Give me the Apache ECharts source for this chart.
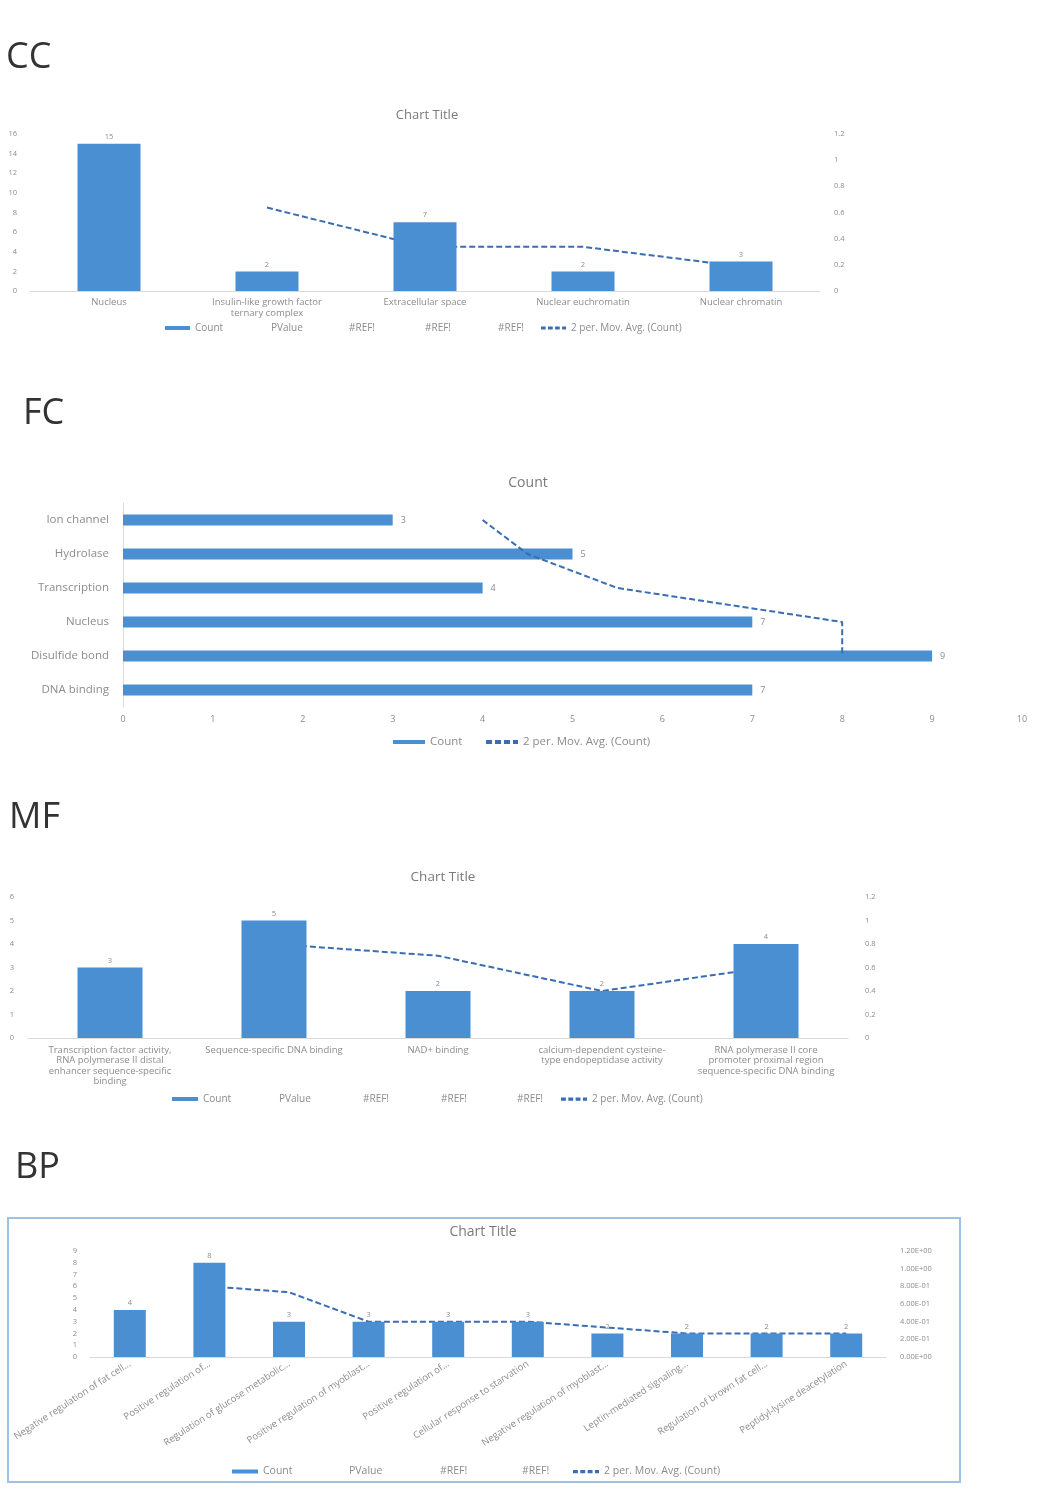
<!DOCTYPE html>
<html><head><meta charset="utf-8">
<script src="https://cdn.jsdelivr.net/npm/echarts@6/dist/echarts.min.js"></script>
<style>
html,body{margin:0;padding:0;background:#fff;}
.c{position:absolute;left:0;width:1054px;}
</style>
</head><body>
<div id="cc" class="c" style="top:0;height:360px"></div>
<div id="fc" class="c" style="top:360px;height:400px"></div>
<div id="mf" class="c" style="top:760px;height:370px"></div>
<div id="bp" class="c" style="top:1130px;height:376px"></div>
<script>
// ---------- DATA ----------
const ccCategories = ['Nucleus', 'Insulin-like growth factor\nternary complex', 'Extracellular space', 'Nuclear euchromatin', 'Nuclear chromatin'];
const ccCount = [15, 2, 7, 2, 3];
const ccMovAvg = [null, 8.5, 4.5, 4.5, 2.5];

const fcCategories = ['Ion channel', 'Hydrolase', 'Transcription', 'Nucleus', 'Disulfide bond', 'DNA binding'];
const fcCount = [3, 5, 4, 7, 9, 7];
const fcMovAvg = [4, 4.5, 5.5, 8, 8, null];

const mfCategories = ['Transcription factor activity,\nRNA polymerase II distal\nenhancer sequence-specific\nbinding', 'Sequence-specific DNA binding', 'NAD+ binding', 'calcium-dependent cysteine-\ntype endopeptidase activity', 'RNA polymerase II core\npromoter proximal region\nsequence-specific DNA binding'];
const mfCount = [3, 5, 2, 2, 4];
const mfMovAvg = [null, 4, 3.5, 2, 3];

const bpCategories = ['Negative regulation of fat cell...', 'Positive regulation of...', 'Regulation of glucose metabolic...', 'Positive regulation of myoblast...', 'Positive regulation of...', 'Cellular response to starvation', 'Negative regulation of myoblast...', 'Leptin-mediated signaling...', 'Regulation of brown fat cell...', 'Peptidyl-lysine deacetylation'];
const bpCount = [4, 8, 3, 3, 3, 3, 2, 2, 2, 2];
const bpMovAvg = [null, 6, 5.5, 3, 3, 3, 2.5, 2, 2, 2];
const bpRightTicks = ['0.00E+00', '2.00E-01', '4.00E-01', '6.00E-01', '8.00E-01', '1.00E+00', '1.20E+00'];

const legendNames = {Count: 'Count', PValue: 'PValue', REF1: '#REF!', REF2: '#REF!', REF3: '#REF!', MA: '2 per. Mov. Avg. (Count)'};

// ---------- STYLE ----------
const FONT = '"Open Sans", "Liberation Sans", sans-serif';
const BAR = '#4b8fd3';
const LINE = '#3a6db2';
const TXT = '#8c8c8c';
const AXISLINE = '#d9d9d9';
const DASH_ICON = 'path://M0,0H6V4H0Z M9,0H15V4H9Z M18,0H24V4H18Z M27,0H32V4H27Z';

function dummy(name, yIdx) {
  return {name: name, type: 'line', data: [], symbol: 'none', yAxisIndex: yIdx,
    itemStyle: {color: 'rgba(0,0,0,0)'}, lineStyle: {color: 'rgba(0,0,0,0)'}};
}
function heading(text, left, top) {
  return {text: text, left: left, top: top, padding: 0,
    textStyle: {fontFamily: FONT, fontSize: 36, fontWeight: 'normal', color: '#333'}};
}
function ctitle(text, cx, top, size) {
  return {text: text, left: cx, top: top, textAlign: 'center', padding: 0,
    textStyle: {fontFamily: FONT, fontSize: size, fontWeight: 'normal', color: '#7a7a7a'}};
}
// items: [name, leftOfIcon]
function legends(items, top, fs, iw) {
  return items.map(([name, left]) => ({
    left: left, top: top, itemWidth: iw, itemHeight: 4, padding: 0, selectedMode: false,
    data: [name === 'MA' ? {name: name, icon: DASH_ICON} : (name === 'Count' ? {name: name, icon: 'rect'} : name)],
    formatter: n => legendNames[n] || n,
    textStyle: {fontFamily: FONT, fontSize: fs, color: TXT}
  }));
}
function countLabel(fs, pos, dist) {
  return {show: true, position: pos, distance: dist, fontFamily: FONT, fontSize: fs, color: TXT};
}
const maLine = (data, z) => ({name: 'MA', type: 'line', data: data, symbol: 'none', z: z,
  lineStyle: {color: LINE, width: 2, type: [6, 3]}, itemStyle: {color: LINE}});

// ---------- CC ----------
echarts.init(document.getElementById('cc')).setOption({
  animation: false,
  title: [heading('CC', 6, 40), ctitle('Chart Title', 427, 109, 13)],
  legend: legends([['Count', 165], ['PValue', 240], ['REF1', 318], ['REF2', 394], ['REF3', 467], ['MA', 541]], 323, 10, 25),
  grid: {left: 30, top: 134, width: 790, height: 157},
  xAxis: {type: 'category', data: ccCategories,
    axisLine: {lineStyle: {color: AXISLINE}}, axisTick: {show: false},
    axisLabel: {interval: 0, margin: 6, lineHeight: 11, fontFamily: FONT, fontSize: 9.5, color: TXT}},
  yAxis: [
    {type: 'value', min: 0, max: 16, interval: 2, splitLine: {show: false},
      axisLabel: {margin: 13, fontFamily: FONT, fontSize: 7.5, color: TXT}},
    {type: 'value', min: 0, max: 1.2, interval: 0.2, splitLine: {show: false}, position: 'right',
      axisLabel: {margin: 14, fontFamily: FONT, fontSize: 7.5, color: TXT, align: 'left'}}
  ],
  series: [
    {name: 'Count', type: 'bar', data: ccCount, barWidth: 63, z: 3,
      itemStyle: {color: BAR}, label: countLabel(7.5, 'top', 3)},
    dummy('PValue', 1), dummy('REF1', 1), dummy('REF2', 1), dummy('REF3', 1),
    maLine(ccMovAvg, 2)
  ]
});

// ---------- FC ----------
echarts.init(document.getElementById('fc')).setOption({
  animation: false,
  title: [heading('FC', 23, 36), ctitle('Count', 528, 116, 14)],
  legend: legends([['Count', 393], ['MA', 486]], 376, 11.5, 32),
  grid: {left: 123, top: 143, width: 899, height: 204},
  xAxis: {type: 'value', min: 0, max: 10, interval: 1, splitLine: {show: false},
    axisLine: {show: false}, axisTick: {show: false},
    axisLabel: {margin: 8, fontFamily: FONT, fontSize: 9, color: TXT}},
  yAxis: {type: 'category', data: fcCategories, inverse: true,
    axisLine: {lineStyle: {color: AXISLINE}}, axisTick: {show: false},
    axisLabel: {margin: 14, fontFamily: FONT, fontSize: 11.5, color: TXT}},
  series: [
    {name: 'Count', type: 'bar', data: fcCount, barWidth: 11, z: 2,
      itemStyle: {color: BAR}, label: countLabel(9, 'right', 8)},
    maLine(fcMovAvg, 3)
  ]
});

// ---------- MF ----------
echarts.init(document.getElementById('mf')).setOption({
  animation: false,
  title: [heading('MF', 9, 40), ctitle('Chart Title', 443, 110, 13.5)],
  legend: legends([['Count', 172], ['PValue', 247], ['REF1', 331], ['REF2', 409], ['REF3', 485], ['MA', 561]], 334, 10, 26),
  grid: {left: 28, top: 137, width: 820, height: 141},
  xAxis: {type: 'category', data: mfCategories,
    axisLine: {lineStyle: {color: AXISLINE}}, axisTick: {show: false},
    axisLabel: {interval: 0, margin: 7, lineHeight: 10.5, fontFamily: FONT, fontSize: 9.5, color: TXT}},
  yAxis: [
    {type: 'value', min: 0, max: 6, interval: 1, splitLine: {show: false},
      axisLabel: {margin: 14, fontFamily: FONT, fontSize: 7.5, color: TXT}},
    {type: 'value', min: 0, max: 1.2, interval: 0.2, splitLine: {show: false}, position: 'right',
      axisLabel: {margin: 17, fontFamily: FONT, fontSize: 7.5, color: TXT, align: 'left'}}
  ],
  series: [
    {name: 'Count', type: 'bar', data: mfCount, barWidth: 65, z: 3,
      itemStyle: {color: BAR}, label: countLabel(7.5, 'top', 3)},
    dummy('PValue', 1), dummy('REF1', 1), dummy('REF2', 1), dummy('REF3', 1),
    maLine(mfMovAvg, 2)
  ]
});

// ---------- BP ----------
echarts.init(document.getElementById('bp')).setOption({
  animation: false,
  title: [heading('BP', 15, 20), ctitle('Chart Title', 483, 95, 14)],
  graphic: [{type: 'rect', shape: {x: 8, y: 88, width: 952, height: 264},
    style: {fill: 'none', stroke: '#9cc2e5', lineWidth: 2}, silent: true}],
  legend: legends([['Count', 232], ['PValue', 317], ['REF1', 408], ['REF2', 490], ['MA', 573]], 336, 10.5, 26),
  grid: {left: 90, top: 121, width: 796, height: 106},
  xAxis: {type: 'category', data: bpCategories,
    axisLine: {lineStyle: {color: AXISLINE}}, axisTick: {show: false},
    axisLabel: {interval: 0, margin: 6, rotate: 33, fontFamily: FONT, fontSize: 9.5, color: TXT}},
  yAxis: [
    {type: 'value', min: 0, max: 9, interval: 1, splitLine: {show: false},
      axisLabel: {margin: 13, fontFamily: FONT, fontSize: 7.5, color: TXT}},
    {type: 'value', min: 0, max: 1.2, interval: 0.2, splitLine: {show: false}, position: 'right',
      axisLabel: {margin: 14, fontFamily: FONT, fontSize: 7.5, color: TXT, align: 'left',
        formatter: (v, i) => bpRightTicks[i]}}
  ],
  series: [
    {name: 'Count', type: 'bar', data: bpCount, barWidth: 32, z: 3,
      itemStyle: {color: BAR}, label: countLabel(7.5, 'top', 3)},
    dummy('PValue', 1), dummy('REF1', 1), dummy('REF2', 1),
    maLine(bpMovAvg, 2)
  ]
});
</script>
</body></html>
